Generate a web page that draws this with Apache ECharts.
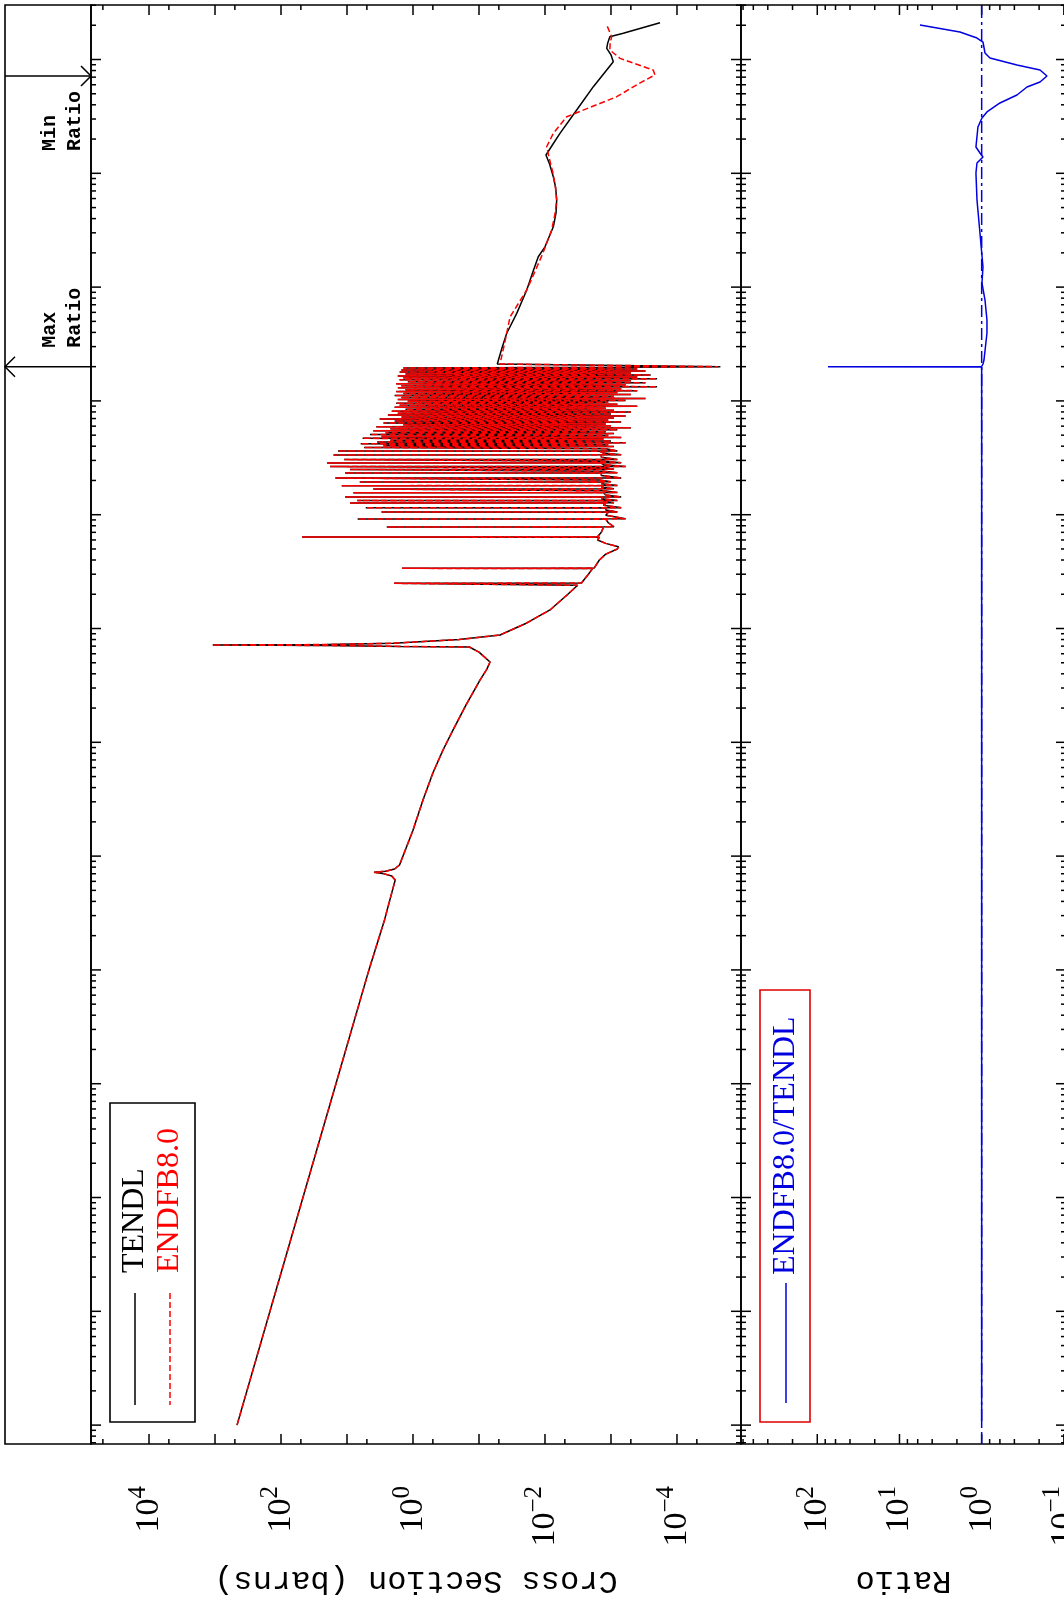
<!DOCTYPE html>
<html>
<head>
<meta charset="utf-8">
<title>Cross section comparison</title>
<script src="https://cdn.jsdelivr.net/npm/echarts@6.0.0/dist/echarts.min.js"></script>
<style>
html,body{margin:0;padding:0;background:#ffffff;}
#chart{width:1064px;height:1606px;}
</style>
</head>
<body>
<div id="chart"></div>
<script>
// ---------------- data: [energy (eV), cross section (b)] ----------------
// Part of the curve common to both evaluations (they overlap below 20 keV)
const sharedCurve = [
  [1e-5,464],[1e-4,147],[1e-3,46.5],[1e-2,14.7],[0.1,4.65],[0.275,2.7],[0.5,2.05],
  [0.617,1.86],[0.67,2.1],[0.705,2.9],[0.72,3.9],[0.735,2.6],[0.77,1.9],[0.836,1.6],
  [1.69,1.0],[3.11,0.706],[5.37,0.5],[8.56,0.351],[12.8,0.248],[21.3,0.157],[35.2,0.0966],
  [44,0.076],[50.8,0.068],[62,0.1],[68.8,0.14],
  [69.6,1.5],[70.9,20],[71.6,1084],[72.3,20],[74.2,2.0],[80,0.2],[87.7,0.048],
  [110,0.02],[145.6,0.0084],[200,0.0045],[240,0.0032],
  [248,0.0030],[249.6,1.94],[251.2,0.0028],[300,0.0022],
  [336,0.0019],[337.9,1.47],[339.7,0.0018],[400,0.0015],[450,0.0012],[500,0.0008],
  [523,0.00077],[560,0.0012],[600,0.0016],
  [634,0.0015],[637,48],[640,0.0016],[700,0.0014],
  [777,0.0013],[780,2.5],[783,0.0009],[850,0.0011],
  [914,0.0012],[917,6.9],[920,0.0006],[990,0.0012],
  [1053,0.0011],[1056,3.0],[1059,0.0008],[1100,0.0012],
  [1147,0.0012],[1150,5.2],[1153,0.0007],[1210,0.0013],
  [1264,0.0012],[1267,9.0],[1271,0.0009],[1300,0.0013],
  [1327,0.0012],[1330,7.0],[1334,0.0008],[1380,0.0014],
  [1426,0.0013],[1430,10.7],[1434,0.0007],[1490,0.0012],
  [1556,0.0013],[1560,8.0],[1564,0.0008],[1620,0.0013],
  [1677,0.0013],[1682,4.0],[1687,0.0009],[1740,0.0014],
  [1795,0.0013],[1800,12],[1805,0.0008],[1870,0.0014],
  [1933,0.0013],[1938,6.4],[1944,0.0010],[2020,0.0015],
  [2094,0.0014],[2100,15],[2106,0.0007],[2210,0.0014],
  [2319,0.0014],[2325,10.7],[2332,0.0008],[2410,0.0013],
  [2493,0.0013],[2500,9.0],[2507,0.0009],[2570,0.0012],
  [2643,0.0012],[2650,18],[2657,0.0006],[2750,0.0013],
  [2840,0.0014],[2847,20],[2855,0.0007],[2950,0.0013],
  [3042,0.0013],[3050,11],[3058,0.0008],[3200,0.0014],
  [3341,0.0014],[3350,16],[3359,0.0007],[3480,0.0013],
  [3620,0.0015],[3628,13.7],[3637,0.0008],
  [3800,0.0012],[3900,5.5],[3980,0.0009],[4050,2.8],[4120,0.0011],[4200,6.2],[4280,0.0006],
  [4360,3.5],[4440,0.0010],[4520,2.2],[4600,0.0013],[4690,5.8],[4780,0.0007],[4870,3.0],
  [4960,0.0011],[5060,4.5],[5160,0.0009],[5260,2.6],[5360,0.0012],[5470,4.0],[5580,0.0008],
  [5690,2.2],[5800,0.0005],[5920,3.6],[6040,0.0010],[6160,1.4],[6280,0.0012],[6410,2.8],
  [6540,0.0007],[6670,1.9],[6800,0.0011],[6940,3.2],[7080,0.0009],[7220,1.5],[7360,0.0006],
  [7510,2.4],[7660,0.0010],[7810,1.7],[7970,0.0005],[8130,2.1],[8290,0.0009],[8460,1.3],
  [8630,0.0012],[8800,1.9],[8980,0.0004],[9160,1.6],[9340,0.0008],[9530,1.8],[9720,0.0011],
  [9920,1.2],[10100,0.0006],[10300,1.7],[10500,0.0003],[10720,1.5],[10930,0.0009],
  [11150,1.9],[11380,0.0005],[11600,1.4],[11830,0.0008],[12070,1.8],[12310,0.0004],
  [12560,1.3],[12810,0.0007],[13070,1.7],[13330,0.0002],[13600,1.5],[13870,0.0006],
  [14150,1.8],[14430,0.0003],[14720,1.2],[15020,0.0005],[15320,1.6],[15630,0.0002],
  [15940,1.4],[16260,0.0004],[16590,1.7],[16920,0.00025],[17260,1.3],[17600,0.0005],
  [17960,1.6],[18320,0.0003],[18690,1.5],[19060,0.0004],[19440,1.4],[19800,0.0006]
];
const tendlHighCurve = [
  [19980,2.2e-5],[21100,0.0528],[2.9e4,0.0450],[3.93e4,0.0380],[5.88e4,0.0268],[9.43e4,0.0189],
  [1.4e5,0.0150],[1.85e5,0.01264],[2.26e5,0.0100],[3.39e5,0.00748],[4.5e5,0.00680],[5.83e5,0.00665],
  [7.5e5,0.00690],[9.33e5,0.00748],[1.2e6,0.00850],[1.448e6,0.00966],[1.8e6,0.00760],
  [2.246e6,0.00593],[3.60e6,0.00331],[5.77e6,0.00185],[9.56e6,0.000923],
  [1.1e7,0.00100],[1.254e7,0.00116],[1.4e7,0.00112],[1.586e7,0.00104],[1.70e7,0.000651],[2.106e7,0.000181]
];
const endfHighCurve = [
  [19990,2.4e-5],[21100,0.0481],[3.4e4,0.0400],[5.46e4,0.0339],[9.43e4,0.0189],[1.993e5,0.01072],
  [3.18e5,0.00792],[4.5e5,0.00700],[5.83e5,0.00665],[7.8e5,0.00700],[1.006e6,0.00757],
  [1.35e6,0.00860],[1.713e6,0.00943],[2.246e6,0.00748],
  [3.14e6,0.00469],[4.71e6,0.000820],[6.3e6,0.000350],[7.31e6,0.000216],[8.08e6,0.000229],[1.024e7,0.000731],
  [1.212e7,0.00104],[1.4e7,0.00103],[1.586e7,0.000976],[2.01e7,0.00116]
];
// [energy (eV), ENDFB8.0/TENDL]
const ratioCurve = [
  [1e-5,1],[19900,1],[19980,74],[20050,1],[2.11e4,0.964],[2.29e4,0.937],[3.95e4,0.862],
  [5.14e4,0.862],[7.70e4,0.911],[1.087e5,0.992],[1.502e5,0.964],[2.99e5,1.049],[5.83e5,1.14],
  [1.006e6,1.174],[1.231e6,1.14],[1.391e6,0.964],[1.508e6,1.049],[1.702e6,1.174],[2.55e6,1.11],
  [3.06e6,0.992],[3.46e6,0.862],[4.15e6,0.599],[4.88e6,0.372],[5.73e6,0.281],[6.34e6,0.195],
  [7.16e6,0.1605],[8.08e6,0.195],[8.95e6,0.372],[1.031e7,0.793],[1.141e7,0.911],[1.425e7,0.964],
  [1.545e7,1.14],[1.744e7,1.84],[2.01e7,5.63]
];
const seriesNames = ['TENDL', 'ENDFB8.0'];
const ratioName = 'ENDFB8.0/TENDL';
const energyMajorTicks = [1e-5,1e-4,1e-3,1e-2,1e-1,1,10,100,1e3,1e4,1e5,1e6,1e7];
const energyMinorMultipliers = [2,3,4,5,6,7,8,9];
const xsMajorTicks = [1e-4,1e-3,1e-2,1e-1,1,10,100,1e3,1e4];
const xsMinorTicks = [5e-5,5e-4,5e-3,5e-2,0.5,5,50,500,5e3,5e4];
const ratioMajorTicks = [0.1,1,10,100];
const ratioMinorTicks = [0.2,0.4,0.6,0.8,2,4,6,8,20,40,60,80,200,400,600,800];

// ---------------- axis ranges ----------------
const E_MIN = Math.pow(10, -5.166), E_MAX = Math.pow(10, 7.479);
const XS_MIN = Math.pow(10, -4.970), XS_MAX = Math.pow(10, 4.879);
const R_MIN = Math.pow(10, -1.026), R_MAX = Math.pow(10, 2.928);

const toXY = pts => pts.map(p => [p[1], p[0]]);
const tendlData = toXY(sharedCurve.concat(tendlHighCurve));
const endfData = toXY(sharedCurve.concat(endfHighCurve));
const ratioData = toXY(ratioCurve);

let iMax = 0, iMin = 0;
ratioCurve.forEach((p, i) => { if (p[1] > ratioCurve[iMax][1]) iMax = i; if (p[1] < ratioCurve[iMin][1]) iMin = i; });
const E_MAXRATIO = ratioCurve[iMax][0], E_MINRATIO = ratioCurve[iMin][0];

const MAJ = 10, MIN = 5;
const energyTickData = [];
energyMajorTicks.forEach(v => energyTickData.push([1, v, MAJ]));
[1e-6].concat(energyMajorTicks).forEach(d => energyMinorMultipliers.forEach(m => {
  const v = d * m; if (v > E_MIN && v < E_MAX) energyTickData.push([1, v, MIN]);
}));
const xsTickData = xsMajorTicks.map(v => [v, 1, MAJ]).concat(xsMinorTicks.map(v => [v, 1, MIN]));
const ratioTickData = ratioMajorTicks.map(v => [v, 1, MAJ]).concat(ratioMinorTicks.map(v => [v, 1, MIN]));

const TICK_STYLE = {stroke: '#000', lineWidth: 1.5};
function energyTickRender(params, api) {
  const cs = params.coordSys;
  const y = api.coord([api.value(0), api.value(1)])[1];
  const len = api.value(2);
  return {type: 'group', children: [
    {type: 'line', shape: {x1: cs.x, y1: y, x2: cs.x + len, y2: y}, style: TICK_STYLE},
    {type: 'line', shape: {x1: cs.x + cs.width, y1: y, x2: cs.x + cs.width - len, y2: y}, style: TICK_STYLE}
  ]};
}
function valueTickRender(params, api) {
  const cs = params.coordSys;
  const x = api.coord([api.value(0), api.value(1)])[0];
  const len = api.value(2);
  const b = cs.y + cs.height, t = cs.y;
  return {type: 'group', children: [
    {type: 'line', shape: {x1: x, y1: b, x2: x, y2: b - len}, style: TICK_STYLE},
    {type: 'line', shape: {x1: x, y1: t, x2: x, y2: t + len}, style: TICK_STYLE}
  ]};
}
function annotRender(params, api) {
  const cs = params.coordSys;
  const y = api.coord([api.value(0), api.value(1)])[1];
  const kind = api.value(2);
  const L = cs.x, R = cs.x + cs.width;
  const st = {stroke: '#000', lineWidth: 1.5, fill: null};
  const txt = s => ({text: s, fill: '#000', fontSize: 20, fontWeight: 'bold',
    fontFamily: '"Liberation Mono", monospace',
    align: 'left', verticalAlign: 'middle', textAlign: 'left', textVerticalAlign: 'middle'});
  if (kind === 0) {
    return {type: 'group', children: [
      {type: 'line', shape: {x1: R, y1: y, x2: L, y2: y}, style: st},
      {type: 'polyline', shape: {points: [[L + 10, y - 10], [L, y], [L + 10, y + 10]]}, style: st},
      {type: 'text', x: L + 45, y: y - 19, rotation: Math.PI / 2, style: txt('Max')},
      {type: 'text', x: L + 70, y: y - 19, rotation: Math.PI / 2, style: txt('Ratio')}
    ]};
  }
  return {type: 'group', children: [
    {type: 'line', shape: {x1: L, y1: y, x2: R, y2: y}, style: st},
    {type: 'polyline', shape: {points: [[R - 10, y - 10], [R, y], [R - 10, y + 10]]}, style: st},
    {type: 'text', x: L + 45, y: y + 75, rotation: Math.PI / 2, style: txt('Min')},
    {type: 'text', x: L + 70, y: y + 75, rotation: Math.PI / 2, style: txt('Ratio')}
  ]};
}

function powLabel(v, evenOnly) {
  const lg = Math.log10(v), k = Math.round(lg);
  if (Math.abs(lg - k) > 1e-6) return '';
  if (evenOnly && k % 2 !== 0) return '';
  return '{b|10}{s|' + String(k).replace('-', '\u2212') + '}';
}
const labelRich = {
  b: {fontSize: 34, fontFamily: '"Liberation Serif", serif', color: '#000'},
  s: {fontSize: 25, fontFamily: '"Liberation Serif", serif', color: '#000', padding: [0, 0, 22, 0]}
};
const nameStyle = {fontSize: 32, fontFamily: '"Liberation Mono", monospace', color: '#000'};

const gridBase = {show: true, borderColor: '#000', borderWidth: 1.6, backgroundColor: 'transparent',
  containLabel: false, outerBoundsMode: 'none'};
const option = {
  animation: false,
  backgroundColor: '#ffffff',
  grid: [
    Object.assign({left: 5, top: 5, width: 86, height: 1439}, gridBase),
    Object.assign({left: 91, top: 5, width: 650, height: 1439}, gridBase),
    Object.assign({left: 741, top: 5, width: 325, height: 1439}, gridBase)
  ],
  xAxis: [
    {gridIndex: 0, type: 'value', min: 0, max: 1, show: false},
    {gridIndex: 1, type: 'log', logBase: 10, inverse: true, min: XS_MIN, max: XS_MAX, position: 'bottom',
      axisLine: {show: false}, axisTick: {show: false}, splitLine: {show: false},
      axisLabel: {rotate: 90, margin: 42, formatter: v => powLabel(v, true), rich: labelRich,
        showMinLabel: false, showMaxLabel: false},
      name: 'Cross Section (barns)', nameLocation: 'middle', nameGap: 120, nameRotate: 180,
      nameTextStyle: nameStyle},
    {gridIndex: 2, type: 'log', logBase: 10, inverse: true, min: R_MIN, max: R_MAX, position: 'bottom',
      axisLine: {show: false}, axisTick: {show: false}, splitLine: {show: false},
      axisLabel: {rotate: 90, margin: 42, formatter: v => powLabel(v, false), rich: labelRich,
        showMinLabel: false, showMaxLabel: false},
      name: 'Ratio', nameLocation: 'middle', nameGap: 120, nameRotate: 180, nameTextStyle: nameStyle}
  ],
  yAxis: [0, 1, 2].map(i => ({gridIndex: i, type: 'log', logBase: 10, min: E_MIN, max: E_MAX, show: false})),
  series: [
    {type: 'custom', name: 'eticks1', xAxisIndex: 1, yAxisIndex: 1, renderItem: energyTickRender,
      data: energyTickData, encode: {x: 0, y: 1}, silent: true, clip: false},
    {type: 'custom', name: 'eticks2', xAxisIndex: 2, yAxisIndex: 2, renderItem: energyTickRender,
      data: energyTickData, encode: {x: 0, y: 1}, silent: true, clip: false},
    {type: 'custom', name: 'xsticks', xAxisIndex: 1, yAxisIndex: 1, renderItem: valueTickRender,
      data: xsTickData, encode: {x: 0, y: 1}, silent: true, clip: false},
    {type: 'custom', name: 'rticks', xAxisIndex: 2, yAxisIndex: 2, renderItem: valueTickRender,
      data: ratioTickData, encode: {x: 0, y: 1}, silent: true, clip: false},
    {type: 'line', name: seriesNames[0], xAxisIndex: 1, yAxisIndex: 1, data: tendlData,
      showSymbol: false, symbol: 'none', clip: true,
      lineStyle: {color: '#000000', width: 1.5}},
    {type: 'line', name: seriesNames[1], xAxisIndex: 1, yAxisIndex: 1, data: endfData,
      showSymbol: false, symbol: 'none', clip: true,
      lineStyle: {color: '#ff0000', width: 1.5, type: [6, 3]}},
    {type: 'line', name: 'unity', xAxisIndex: 2, yAxisIndex: 2, data: [[1, E_MIN], [1, E_MAX]],
      showSymbol: false, symbol: 'none', lineStyle: {color: '#0000e0', width: 1.5, type: [12, 4, 3, 4]}},
    {type: 'line', name: ratioName, xAxisIndex: 2, yAxisIndex: 2, data: ratioData,
      showSymbol: false, symbol: 'none', clip: true, lineStyle: {color: '#0000e0', width: 1.5}},
    {type: 'custom', name: 'annot', xAxisIndex: 0, yAxisIndex: 0, renderItem: annotRender,
      data: [[0.5, E_MAXRATIO, 0], [0.5, E_MINRATIO, 1]], encode: {x: 0, y: 1}, silent: true, clip: false}
  ],
  graphic: {elements: [
    {type: 'rect', shape: {x: 110, y: 1103, width: 85, height: 319},
      style: {fill: 'rgba(0,0,0,0)', stroke: '#000', lineWidth: 1.6}, z: 100},
    {type: 'line', shape: {x1: 135, y1: 1293, x2: 135, y2: 1405}, style: {stroke: '#000', lineWidth: 1.5}, z: 100},
    {type: 'line', shape: {x1: 170, y1: 1293, x2: 170, y2: 1405},
      style: {stroke: '#ff0000', lineWidth: 1.5, lineDash: [6, 3]}, z: 100},
    {type: 'text', x: 135, y: 1273, rotation: Math.PI / 2, z: 100,
      style: {text: seriesNames[0], fill: '#000', fontSize: 32, fontFamily: '"Liberation Serif", serif',
        align: 'left', verticalAlign: 'middle', textAlign: 'left', textVerticalAlign: 'middle'}},
    {type: 'text', x: 170, y: 1273, rotation: Math.PI / 2, z: 100,
      style: {text: seriesNames[1], fill: '#ff0000', fontSize: 32, fontFamily: '"Liberation Serif", serif',
        align: 'left', verticalAlign: 'middle', textAlign: 'left', textVerticalAlign: 'middle'}},
    {type: 'rect', shape: {x: 760, y: 990, width: 50, height: 432},
      style: {fill: 'rgba(0,0,0,0)', stroke: '#e00000', lineWidth: 1.6}, z: 100},
    {type: 'line', shape: {x1: 786, y1: 1283, x2: 786, y2: 1403}, style: {stroke: '#0000e0', lineWidth: 1.5}, z: 100},
    {type: 'text', x: 786, y: 1275, rotation: Math.PI / 2, z: 100,
      style: {text: ratioName, fill: '#0000e0', fontSize: 32, fontFamily: '"Liberation Serif", serif',
        align: 'left', verticalAlign: 'middle', textAlign: 'left', textVerticalAlign: 'middle'}}
  ]}
};
const chart = echarts.init(document.getElementById('chart'), null, {renderer: 'canvas', width: 1064, height: 1606});
chart.setOption(option);
</script>
</body>
</html>
